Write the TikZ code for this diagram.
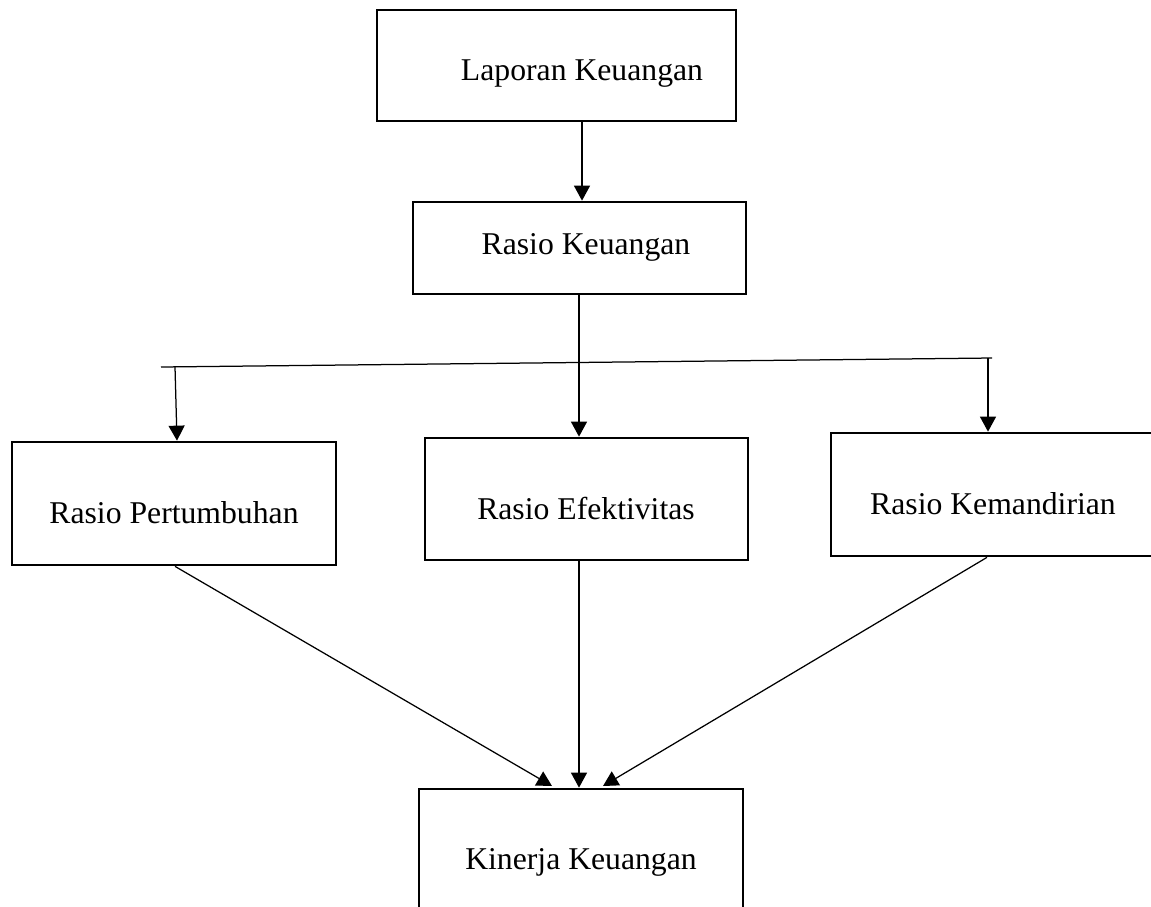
\documentclass[tikz,border=0pt]{standalone}
\usepackage{fontspec}
\setmainfont{Liberation Serif}
\usetikzlibrary{arrows.meta,calc}
\begin{document}
\begin{tikzpicture}[x=1pt,y=-1pt,
  box/.style={draw,line width=2.7pt,minimum width=#1,inner sep=0pt},
  txt/.style={anchor=base,inner sep=0pt,font=\fontsize{31.7}{38}\selectfont},
  conn/.style={line width=1.25pt},
  arr/.style={conn,-{Triangle[length=15pt,width=16pt]}}]
\clip (0,0) rectangle (1151,906);
\fill[white] (0,0) rectangle (1151,906);
% boxes
\node[box=359pt,minimum height=111pt] (lk) at (556.5,65.5) {};
\node[box=333pt,minimum height=92pt] (rk) at (579.5,248) {};
\node[box=324pt,minimum height=123pt] (rp) at (174,503.5) {};
\node[box=323pt,minimum height=122pt] (re) at (586.5,499) {};
\node[box=324pt,minimum height=123pt] (rkm) at (993,494.5) {};
\node[box=324pt,minimum height=141pt] (kk) at (581,859.5) {};
% texts
\node[txt] (tlk) at (582,80) {Laporan Keuangan};
\node[txt] (trk) at (586,254) {Rasio Keuangan};
\node[txt] (trp) at (174,523) {Rasio Pertumbuhan};
\node[txt] (tre) at (586,519) {Rasio Efektivitas};
\node[txt] (trkm) at (993,514) {Rasio Kemandirian};
\node[txt] (tkk) at (581,869) {Kinerja Keuangan};
% helper coordinates
\coordinate (c1) at (582,0);
\coordinate (c2) at (579,0);
\coordinate (hl) at (161,367);
\coordinate (hr) at (992,358);
\coordinate (bl) at (175,366.7);
\coordinate (br) at (988,358.2);
\coordinate (pl) at (177,0);
\coordinate (pr) at (988,0);
\coordinate (sl) at (175,0);
\coordinate (sr) at (987,0);
\coordinate (tl) at (552,786);
\coordinate (tr) at (603,786);
% connectors
\draw[arr] (lk.south -| c1) -- (rk.north -| c1);
\draw[arr] (rk.south -| c2) -- (re.north -| c2);
\draw[conn] (hl) -- (hr);
\draw[arr] (bl) -- (rp.north -| pl);
\draw[arr] (br) -- (rkm.north -| pr);
\draw[arr] (rp.south -| sl) -- (tl);
\draw[arr] (re.south -| c2) -- (kk.north -| c2);
\draw[arr] (rkm.south -| sr) -- (tr);
\end{tikzpicture}
\end{document}
